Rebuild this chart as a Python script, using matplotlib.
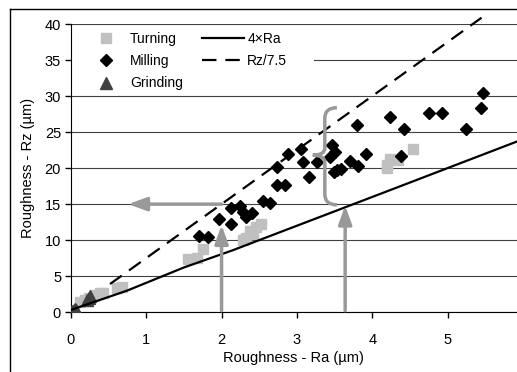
import matplotlib
matplotlib.use('Agg')
import matplotlib.pyplot as plt
from matplotlib.path import Path
from matplotlib.patches import PathPatch, Rectangle
from matplotlib.lines import Line2D

plt.rcParams['font.family'] = ['Liberation Sans', 'DejaVu Sans']
plt.rcParams['font.size'] = 10

# Turning (light grey squares)
turn_ra = [0.12, 0.19, 0.24, 0.32, 0.39, 0.43, 0.61, 0.68,
           1.56, 1.67, 1.76, 2.29, 2.33, 2.38, 2.42, 2.46, 2.52,
           4.19, 4.20, 4.23, 4.34, 4.54]
turn_rz = [1.4, 1.7, 2.0, 2.4, 2.6, 2.7, 3.3, 3.5,
           7.4, 7.5, 8.7, 10.0, 10.3, 11.3, 10.9, 11.8, 12.3,
           20.0, 20.5, 21.3, 21.1, 22.7]

# Milling (black diamonds)
mill_ra = [1.70, 1.82, 1.97, 2.12, 2.12, 2.25, 2.29, 2.33, 2.41, 2.55, 2.64,
           2.73, 2.84, 2.73, 2.88, 3.05, 3.08, 3.16, 3.27, 3.46, 3.50, 3.44,
           3.53, 3.59, 3.49, 3.70, 3.81, 3.92, 3.80, 4.24, 4.42, 4.38, 4.75,
           4.93, 5.24, 5.44, 5.47]
mill_rz = [10.6, 10.4, 12.9, 12.3, 14.5, 14.7, 13.9, 13.2, 13.7, 15.4, 15.1,
           17.6, 17.6, 20.1, 22.0, 22.7, 20.9, 18.8, 20.9, 23.2, 22.2, 21.6,
           19.7, 19.9, 19.5, 21.0, 20.3, 21.9, 26.0, 27.1, 25.4, 21.7, 27.6,
           27.7, 25.5, 28.4, 30.4]

# Grinding (dark grey triangles)
grind_ra = [0.02, 0.04, 0.06, 0.07, 0.22, 0.24, 0.26]
grind_rz = [0.1, 0.3, 0.5, 0.3, 1.7, 2.0, 2.2]

# 4xRa line and Rz/7.5 line
line4_ra = [0.0, 0.75, 1.5, 2.15, 3.0, 4.1, 5.92]
line4_rz = [0.3, 3.0, 6.2, 8.6, 12.0, 16.4, 23.7]
line75_ra = [0.52, 5.45]
line75_rz = [3.9, 40.9]

fig = plt.figure(figsize=(5.17, 3.72), dpi=100)
ax = fig.add_axes([0.137, 0.161, 0.863, 0.774])

ax.set_xlim(0, 5.92)
ax.set_ylim(0, 40)
ax.set_xticks([0, 1, 2, 3, 4, 5])
ax.set_yticks(range(0, 41, 5))
ax.yaxis.grid(True, color='#404040', linewidth=0.8)
ax.set_axisbelow(True)
for s in ['top', 'right']:
    ax.spines[s].set_visible(False)
ax.tick_params(axis='x', direction='out', length=4, width=1, pad=11, labelsize=10.5)
ax.tick_params(axis='y', direction='out', length=4, width=1, pad=3, labelsize=10.5)

# white legend background hiding the 35 gridline
ax.add_patch(Rectangle((0.01, 30.6), 3.22, 9.1, facecolor='white', edgecolor='none', zorder=1.5))

ax.plot(turn_ra, turn_rz, 's', color='#c0c0c0', markersize=7.5, label='Turning', zorder=3)
ax.plot(mill_ra, mill_rz, 'D', color='black', markersize=6.3, label='Milling', zorder=4)
ax.plot(grind_ra, grind_rz, '^', color='#404040', markersize=9, label='Grinding', zorder=4)
ax.plot(line4_ra, line4_rz, '-', color='black', lw=1.6, label='4\u00d7Ra', zorder=5)
ax.plot(line75_ra, line75_rz, color='black', lw=1.6, linestyle=(0, (6.5, 4)),
        label='Rz/7.5', zorder=5, clip_on=False)

grey = '#999999'
arr = dict(arrowstyle='-|>,head_length=1.1,head_width=0.4', color=grey, lw=2.5,
           shrinkA=0, shrinkB=0, mutation_scale=10)
ax.annotate('', xy=(0.76, 15), xytext=(2.0, 15), arrowprops=arr, zorder=2)
ax.annotate('', xy=(2.0, 12.1), xytext=(2.0, 0.2), arrowprops=arr, zorder=6)
ax.annotate('', xy=(3.64, 14.8), xytext=(3.64, 0.2), arrowprops=arr, zorder=6)

# curly brace
xr, xm, xt = 3.53, 3.37, 3.21
yt, ym, yb = 28.4, 21.8, 14.9
verts = [(xr, yt), (xm, yt), (xm, yt - 1.5),
         (xm, ym + 1.0), (xm, ym), (xt, ym),
         (xm, ym), (xm, ym - 1.0),
         (xm, yb + 1.5), (xm, yb), (xr, yb)]
codes = [Path.MOVETO, Path.CURVE3, Path.CURVE3,
         Path.LINETO, Path.CURVE3, Path.CURVE3,
         Path.CURVE3, Path.CURVE3,
         Path.LINETO, Path.CURVE3, Path.CURVE3]
ax.add_patch(PathPatch(Path(verts, codes), fill=False, edgecolor=grey, lw=2.5, zorder=6))

ax.set_xlabel('Roughness - Ra (\u00b5m)', fontsize=10.5, labelpad=3)
ax.set_ylabel('Roughness - Rz (\u00b5m)', fontsize=10.5, labelpad=7)

leg = ax.legend(ncol=2, loc='upper left', bbox_to_anchor=(0.003, 1.017),
                frameon=False, handlelength=3, handletextpad=0.25, columnspacing=1.4,
                labelspacing=0.6, borderpad=0.4, fontsize=10)
leg.set_zorder(10)

# outer frame
fig.add_artist(Line2D([10 / 517, 10 / 517], [0, 1 - 9 / 372], color='black', lw=1))
fig.add_artist(Line2D([10 / 517, 1], [1 - 9 / 372, 1 - 9 / 372], color='black', lw=1))

fig.savefig('out.png', dpi=100)
